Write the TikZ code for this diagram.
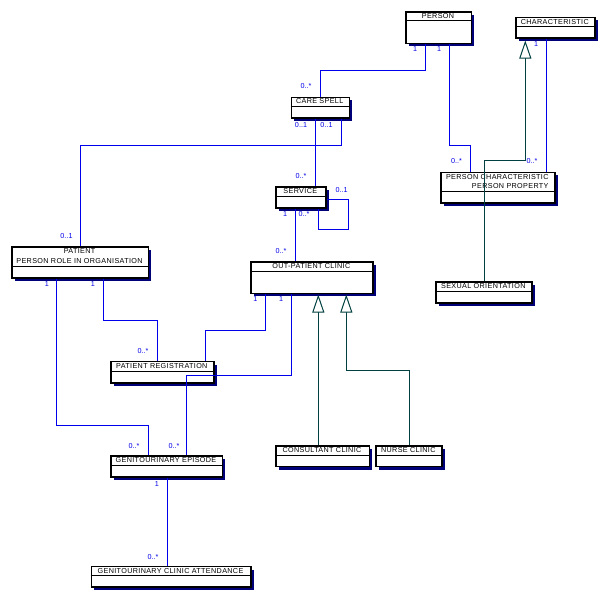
\documentclass[tikz,border=0pt]{standalone}
\usepackage{fontspec}
\setmainfont{Liberation Sans}
\newfontfamily\umlfont[LetterSpace=5]{Liberation Sans}
\usetikzlibrary{arrows.meta,shadows}
\definecolor{assocblue}{RGB}{0,0,235}
\definecolor{shadowc}{RGB}{0,0,120}
\definecolor{gengreen}{RGB}{0,64,64}
\tikzset{
  cls/.style={draw=black, line width=1.2pt, fill=white, rectangle, inner sep=0pt, anchor=north west,
    general shadow={fill=shadowc, shadow xshift=3pt, shadow yshift=-3pt}},
  clsline/.style={draw=black, line width=1pt},
  clstext/.style={font=\umlfont\fontsize{7.2}{9.5}\selectfont, inner sep=0pt, align=center},
  assoc/.style={draw=assocblue, line width=1pt},
  gen/.style={draw=gengreen, line width=1pt, -{Triangle[open, length=18pt, width=12pt, fill=white]}},
  mult/.style={font=\fontsize{7.2}{8}\selectfont, text=assocblue, inner sep=0pt}
}
\newcommand\classbox[8]{%
  \node[cls, minimum width=#4pt-#2pt, minimum height=#5pt-#3pt] (#1) at (#2,-#3) {};
  \draw[clsline] (#2,-#6) -- (#4,-#6);
  \node[clstext,#7] (#1t) at ({(#2+#4)/2},{-(#3+#6)/2}) {#8};
}
\begin{document}
\begin{tikzpicture}[x=1pt,y=1pt]
\useasboundingbox[fill=white] (0,0) rectangle (608,-600);
% classes
\classbox{person}{405.3}{11.3}{470.7}{42.7}{20.7}{}{PERSON}
\classbox{charac}{515.3}{16.7}{594.3}{37.3}{26.7}{}{CHARACTERISTIC}
\classbox{carespell}{290.7}{96.7}{348.7}{117.3}{106}{}{CARE SPELL}
\classbox{perschar}{440.3}{171.7}{554.3}{202.3}{191.7}{align=right}{PERSON CHARACTERISTIC\\PERSON PROPERTY}
\classbox{service}{275.3}{186.3}{325.3}{207.3}{196.3}{}{SERVICE}
\classbox{patient}{11.3}{246.3}{147.7}{277.3}{266}{}{PATIENT\\PERSON ROLE IN ORGANISATION}
\classbox{opc}{250.3}{261.3}{372.3}{292.7}{271.3}{}{OUT-PATIENT CLINIC}
\classbox{sexor}{435.3}{281.3}{531.3}{302.3}{291.3}{}{SEXUAL ORIENTATION}
\classbox{preg}{110.3}{361}{213.3}{382.3}{371}{}{PATIENT REGISTRATION}
\classbox{cons}{275.3}{445.3}{368.7}{466}{455.7}{}{CONSULTANT CLINIC}
\classbox{nurse}{375.3}{445.3}{441.3}{466}{455.7}{}{NURSE CLINIC}
\classbox{ge}{110.3}{455.3}{221.7}{476.3}{465.7}{}{GENITOURINARY EPISODE}
\classbox{gca}{90.7}{566}{250.3}{586.3}{575.7}{}{GENITOURINARY CLINIC ATTENDANCE}
% associations
\draw[assoc] (425.3,0 |- person.south) -- (425.3,-70.3) -- (320.3,-70.3) -- (320.3,0 |- carespell.north);
\draw[assoc] (449.7,0 |- person.south) -- (449.7,-145.3) -- (470.3,-145.3) -- (470.3,0 |- perschar.north);
\draw[assoc] (341.3,0 |- carespell.south) -- (341.3,-145.3) -- (80.3,-145.3) -- (80.3,0 |- patient.north);
\draw[assoc] (315.3,0 |- carespell.south) -- (315.3,0 |- service.north);
\draw[assoc] (546.3,0 |- charac.south) -- (546.3,0 |- perschar.north);
\draw[assoc] (service.east |- 0,-199.3) -- (348.3,-199.3) -- (348.3,-229.3) -- (318.3,-229.3) -- (318.3,0 |- service.south);
\draw[assoc] (295.3,0 |- service.south) -- (295.3,0 |- opc.north);
\draw[assoc] (103.3,0 |- patient.south) -- (103.3,-320.3) -- (157.3,-320.3) -- (157.3,0 |- preg.north);
\draw[assoc] (56.3,0 |- patient.south) -- (56.3,-425.3) -- (148.3,-425.3) -- (148.3,0 |- ge.north);
\draw[assoc] (265.3,0 |- opc.south) -- (265.3,-330.3) -- (205.3,-330.3) -- (205.3,0 |- preg.north);
\draw[assoc] (291.3,0 |- opc.south) -- (291.3,-375.3) -- (186.3,-375.3) -- (186.3,0 |- ge.north);
\draw[assoc] (167.3,0 |- ge.south) -- (167.3,0 |- gca.north);
% generalizations
\coordinate (chartip) at (525.3,-40.5);
\coordinate (opctipa) at (318.3,-294.5);
\coordinate (opctipb) at (346.3,-294.5);
\draw[gen] (484.3,0 |- sexor.north) -- (484.3,-160.3) -- (525.3,-160.3) -- (chartip);
\draw[gen] (318.3,0 |- cons.north) -- (opctipa);
\draw[gen] (409.3,0 |- nurse.north) -- (409.3,-370) -- (346.3,-370) -- (opctipb);
% multiplicities
\node[mult] (m1) at (415,-49) {1};
\node[mult] (m2) at (439,-49) {1};
\node[mult] (m3) at (306,-86) {0..*};
\node[mult] (m4) at (301,-125) {0..1};
\node[mult] (m5) at (326.5,-125) {0..1};
\node[mult] (m6) at (456.5,-161) {0..*};
\node[mult] (m7) at (536,-44) {1};
\node[mult] (m8) at (532,-161) {0..*};
\node[mult] (m9) at (301,-176) {0..*};
\node[mult] (m10) at (341.7,-190) {0..1};
\node[mult] (m11) at (285,-214) {1};
\node[mult] (m12) at (304,-214) {0..*};
\node[mult] (m13) at (281,-251) {0..*};
\node[mult] (m14) at (66.5,-236.5) {0..1};
\node[mult] (m15) at (47,-284.5) {1};
\node[mult] (m16) at (93,-284.5) {1};
\node[mult] (m17) at (255.3,-299.3) {1};
\node[mult] (m18) at (281,-299.3) {1};
\node[mult] (m19) at (143,-351) {0..*};
\node[mult] (m20) at (134,-446) {0..*};
\node[mult] (m21) at (174,-446) {0..*};
\node[mult] (m23) at (157,-484.5) {1};
\node[mult] (m24) at (153,-557) {0..*};
\end{tikzpicture}
\end{document}
